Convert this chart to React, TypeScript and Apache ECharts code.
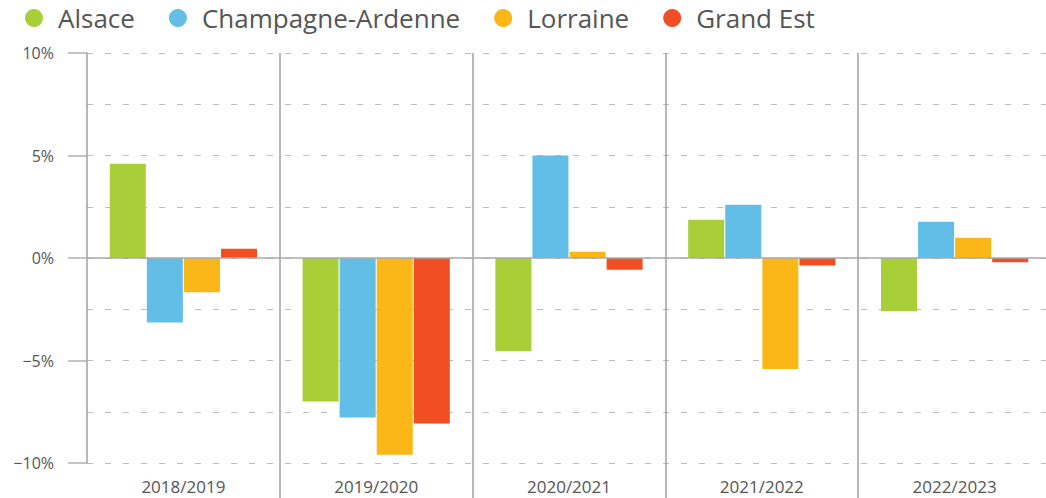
import React, { useEffect, useRef } from "react";
import * as echarts from "echarts";

const categories = ["2018/2019", "2019/2020", "2020/2021", "2021/2022", "2022/2023"];
const alsace = [4.6, -7.0, -4.55, 1.87, -2.6];
const champagne = [-3.15, -7.78, 5.0, 2.6, 1.77];
const lorraine = [-1.67, -9.6, 0.31, -5.42, 0.99];
const grandEst = [0.45, -8.07, -0.57, -0.36, -0.21];
const seriesNames = ["Alsace", "Champagne-Ardenne", "Lorraine", "Grand Est"];
const colors = ["#a8ce38", "#62bee6", "#fbb717", "#f04e23"];

const FONT = "'Open Sans', 'Noto Sans', sans-serif";
const TEXT = "#555555";

export default function App() {
  const ref = useRef<HTMLDivElement>(null);
  useEffect(() => {
    if (!ref.current) return;
    const chart = echarts.init(ref.current, null, { renderer: "svg" });
    const data = [alsace, champagne, lorraine, grandEst];
    chart.setOption({
      animation: false,
      textStyle: { fontFamily: FONT },
      legend: {
        top: 0,
        left: 20,
        icon: "circle",
        itemWidth: 18,
        itemHeight: 18,
        itemGap: 34,
        textStyle: { fontSize: 26, color: TEXT, fontFamily: FONT, padding: [0, 0, 0, 10] },
        data: seriesNames,
      },
      grid: { left: 87, width: 964, top: 53, height: 410, containLabel: false },
      xAxis: {
        type: "category",
        data: categories,
        boundaryGap: true,
        axisLine: { show: false, onZero: false },
        axisTick: {
          show: true,
          length: 36,
          interval: (i: number) => i !== 0,
          lineStyle: { color: "#a0a0a0", width: 1.5 },
        },
        splitLine: {
          show: true,
          interval: (i: number) => i !== 0,
          lineStyle: { color: "#a0a0a0", width: 1.5, type: "solid" },
        },
        axisLabel: { color: TEXT, fontSize: 17, margin: 15, fontFamily: FONT },
      },
      yAxis: {
        type: "value",
        min: -10,
        max: 10,
        interval: 5,
        axisLine: { show: true, lineStyle: { color: "#a0a0a0", width: 1.5 } },
        axisTick: { show: true, length: 19, lineStyle: { color: "#b0b0b0", width: 1.5 } },
        axisLabel: {
          color: TEXT,
          fontSize: 16,
          margin: 33,
          fontFamily: FONT,
          formatter: (v: number) => (v < 0 ? "\u2212" + Math.abs(v) : String(v)) + "%",
        },
        splitLine: { show: true, lineStyle: { color: "#bdbdbd", width: 1.2, type: [6, 12] } },
        minorTick: { show: false, splitNumber: 2 },
        minorSplitLine: { show: true, lineStyle: { color: "#bdbdbd", width: 1.2, type: [6, 12] } },
      },
      series: seriesNames.map((name, i) => ({
        name,
        type: "bar",
        data: data[i],
        barWidth: 36,
        barGap: "3%",
        itemStyle: { color: colors[i] },
        ...(i === 0
          ? {
              markLine: {
                silent: true,
                symbol: "none",
                label: { show: false },
                lineStyle: { color: "#aaaaaa", width: 1.5, type: "solid" },
                data: [{ yAxis: 0 }],
                z: 10,
              },
            }
          : {}),
      })),
    });
    return () => chart.dispose();
  }, []);
  return (
    <div
      style={{
        position: "absolute",
        left: 0,
        top: 0,
        width: 1046,
        height: 498,
        overflow: "hidden",
      }}
    >
      <div ref={ref} style={{ width: 1060, height: 498 }} />
    </div>
  );
}
